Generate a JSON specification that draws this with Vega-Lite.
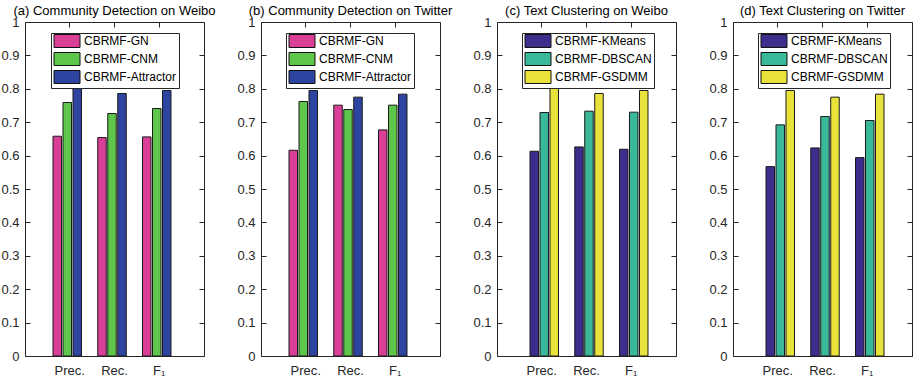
{
  "$schema": "https://vega.github.io/schema/vega-lite/v6.json",
  "padding": {"left": 0, "top": 5, "right": 0, "bottom": 0},
  "bounds": "flush",
  "spacing": 57,
  "background": "white",
  "config": {
    "font": "Liberation Sans",
    "view": {"stroke": null},
    "axis": {"labelFont": "Liberation Sans", "labelFontSize": 13, "labelColor": "#262626", "domainColor": "#262626", "tickColor": "#262626", "grid": false, "title": null, "tickSize": -5, "domainWidth": 1, "tickWidth": 1},
    "title": {"font": "Liberation Sans", "fontSize": 13, "fontWeight": "normal", "color": "#000000", "anchor": "middle", "frame": "group", "offset": -2},
    "legend": {"orient": "none", "legendY": 11, "title": null, "symbolType": "M-1.111,-1.444H4.667V1.444H-1.111Z", "symbolSize": 81, "symbolStrokeColor": "#111111", "symbolStrokeWidth": 1, "symbolOpacity": 1, "labelFont": "Liberation Sans", "labelFontSize": 12, "labelColor": "#000000", "labelOffset": 19, "rowPadding": 0, "padding": 2, "strokeColor": "#262626", "fillColor": "white"}
  },
  "datasets": {
    "bars": [
      {"panel": "a", "metric": "Prec.", "method": "CBRMF-GN", "value": 0.658},
      {"panel": "a", "metric": "Prec.", "method": "CBRMF-CNM", "value": 0.759},
      {"panel": "a", "metric": "Prec.", "method": "CBRMF-Attractor", "value": 0.801},
      {"panel": "a", "metric": "Rec.", "method": "CBRMF-GN", "value": 0.654},
      {"panel": "a", "metric": "Rec.", "method": "CBRMF-CNM", "value": 0.726},
      {"panel": "a", "metric": "Rec.", "method": "CBRMF-Attractor", "value": 0.786},
      {"panel": "a", "metric": "F₁", "method": "CBRMF-GN", "value": 0.656},
      {"panel": "a", "metric": "F₁", "method": "CBRMF-CNM", "value": 0.741},
      {"panel": "a", "metric": "F₁", "method": "CBRMF-Attractor", "value": 0.795},
      {"panel": "b", "metric": "Prec.", "method": "CBRMF-GN", "value": 0.616},
      {"panel": "b", "metric": "Prec.", "method": "CBRMF-CNM", "value": 0.762},
      {"panel": "b", "metric": "Prec.", "method": "CBRMF-Attractor", "value": 0.795},
      {"panel": "b", "metric": "Rec.", "method": "CBRMF-GN", "value": 0.751},
      {"panel": "b", "metric": "Rec.", "method": "CBRMF-CNM", "value": 0.738},
      {"panel": "b", "metric": "Rec.", "method": "CBRMF-Attractor", "value": 0.775},
      {"panel": "b", "metric": "F₁", "method": "CBRMF-GN", "value": 0.677},
      {"panel": "b", "metric": "F₁", "method": "CBRMF-CNM", "value": 0.751},
      {"panel": "b", "metric": "F₁", "method": "CBRMF-Attractor", "value": 0.784},
      {"panel": "c", "metric": "Prec.", "method": "CBRMF-KMeans", "value": 0.613},
      {"panel": "c", "metric": "Prec.", "method": "CBRMF-DBSCAN", "value": 0.729},
      {"panel": "c", "metric": "Prec.", "method": "CBRMF-GSDMM", "value": 0.804},
      {"panel": "c", "metric": "Rec.", "method": "CBRMF-KMeans", "value": 0.626},
      {"panel": "c", "metric": "Rec.", "method": "CBRMF-DBSCAN", "value": 0.733},
      {"panel": "c", "metric": "Rec.", "method": "CBRMF-GSDMM", "value": 0.786},
      {"panel": "c", "metric": "F₁", "method": "CBRMF-KMeans", "value": 0.619},
      {"panel": "c", "metric": "F₁", "method": "CBRMF-DBSCAN", "value": 0.730},
      {"panel": "c", "metric": "F₁", "method": "CBRMF-GSDMM", "value": 0.795},
      {"panel": "d", "metric": "Prec.", "method": "CBRMF-KMeans", "value": 0.567},
      {"panel": "d", "metric": "Prec.", "method": "CBRMF-DBSCAN", "value": 0.692},
      {"panel": "d", "metric": "Prec.", "method": "CBRMF-GSDMM", "value": 0.795},
      {"panel": "d", "metric": "Rec.", "method": "CBRMF-KMeans", "value": 0.623},
      {"panel": "d", "metric": "Rec.", "method": "CBRMF-DBSCAN", "value": 0.717},
      {"panel": "d", "metric": "Rec.", "method": "CBRMF-GSDMM", "value": 0.775},
      {"panel": "d", "metric": "F₁", "method": "CBRMF-KMeans", "value": 0.594},
      {"panel": "d", "metric": "F₁", "method": "CBRMF-DBSCAN", "value": 0.705},
      {"panel": "d", "metric": "F₁", "method": "CBRMF-GSDMM", "value": 0.784}
    ]
  },
  "resolve": {"scale": {"color": "independent"}, "legend": {"color": "independent"}},
  "hconcat": [
    {
      "width": 179, "height": 334,
      "title": {"text": "(a) Community Detection on Weibo"},
      "data": {"name": "bars"},
      "transform": [{"filter": "datum.panel === 'a'"}],
      "resolve": {"axis": {"x": "independent", "y": "independent"}},
      "layer": [
        {
          "mark": {"type": "bar", "stroke": "#1a1a1a", "strokeWidth": 1, "width": 8.5},
          "encoding": {
            "x": {"field": "metric", "type": "nominal", "sort": ["Prec.", "Rec.", "F₁"], "scale": {"paddingInner": 0.33, "paddingOuter": 0.665}, "axis": {"orient": "bottom", "labelAngle": 0, "labelPadding": 13}},
            "xOffset": {"field": "method", "type": "nominal", "sort": ["CBRMF-GN", "CBRMF-CNM", "CBRMF-Attractor"], "scale": {"paddingInner": 0, "paddingOuter": 0}},
            "y": {"field": "value", "type": "quantitative", "scale": {"domain": [0, 1], "nice": false}, "axis": {"orient": "left", "values": [0, 0.1, 0.2, 0.3, 0.4, 0.5, 0.6, 0.7, 0.8, 0.9, 1], "format": "~g", "labelPadding": 11}},
            "color": {"field": "method", "type": "nominal", "sort": ["CBRMF-GN", "CBRMF-CNM", "CBRMF-Attractor"], "scale": {"domain": ["CBRMF-GN", "CBRMF-CNM", "CBRMF-Attractor"], "range": ["#d93f96", "#5dc64b", "#2e44a1"]}, "legend": {"legendX": 26}}
          }
        },
        {
          "mark": {"type": "tick", "opacity": 0},
          "encoding": {
            "x": {"field": "metric", "type": "nominal", "sort": ["Prec.", "Rec.", "F₁"], "axis": {"orient": "top", "labels": false}},
            "y": {"field": "value", "type": "quantitative", "axis": {"orient": "right", "labels": false, "values": [0, 0.1, 0.2, 0.3, 0.4, 0.5, 0.6, 0.7, 0.8, 0.9, 1]}}
          }
        }
      ]
    },
    {
      "width": 179, "height": 334,
      "title": {"text": "(b) Community Detection on Twitter"},
      "data": {"name": "bars"},
      "transform": [{"filter": "datum.panel === 'b'"}],
      "resolve": {"axis": {"x": "independent", "y": "independent"}},
      "layer": [
        {
          "mark": {"type": "bar", "stroke": "#1a1a1a", "strokeWidth": 1, "width": 8.5},
          "encoding": {
            "x": {"field": "metric", "type": "nominal", "sort": ["Prec.", "Rec.", "F₁"], "scale": {"paddingInner": 0.33, "paddingOuter": 0.665}, "axis": {"orient": "bottom", "labelAngle": 0, "labelPadding": 13}},
            "xOffset": {"field": "method", "type": "nominal", "sort": ["CBRMF-GN", "CBRMF-CNM", "CBRMF-Attractor"], "scale": {"paddingInner": 0, "paddingOuter": 0}},
            "y": {"field": "value", "type": "quantitative", "scale": {"domain": [0, 1], "nice": false}, "axis": {"orient": "left", "values": [0, 0.1, 0.2, 0.3, 0.4, 0.5, 0.6, 0.7, 0.8, 0.9, 1], "format": "~g", "labelPadding": 11}},
            "color": {"field": "method", "type": "nominal", "sort": ["CBRMF-GN", "CBRMF-CNM", "CBRMF-Attractor"], "scale": {"domain": ["CBRMF-GN", "CBRMF-CNM", "CBRMF-Attractor"], "range": ["#d93f96", "#5dc64b", "#2e44a1"]}, "legend": {"legendX": 25}}
          }
        },
        {
          "mark": {"type": "tick", "opacity": 0},
          "encoding": {
            "x": {"field": "metric", "type": "nominal", "sort": ["Prec.", "Rec.", "F₁"], "axis": {"orient": "top", "labels": false}},
            "y": {"field": "value", "type": "quantitative", "axis": {"orient": "right", "labels": false, "values": [0, 0.1, 0.2, 0.3, 0.4, 0.5, 0.6, 0.7, 0.8, 0.9, 1]}}
          }
        }
      ]
    },
    {
      "width": 179, "height": 334,
      "title": {"text": "(c) Text Clustering on Weibo"},
      "data": {"name": "bars"},
      "transform": [{"filter": "datum.panel === 'c'"}],
      "resolve": {"axis": {"x": "independent", "y": "independent"}},
      "layer": [
        {
          "mark": {"type": "bar", "stroke": "#1a1a1a", "strokeWidth": 1, "width": 8.5},
          "encoding": {
            "x": {"field": "metric", "type": "nominal", "sort": ["Prec.", "Rec.", "F₁"], "scale": {"paddingInner": 0.33, "paddingOuter": 0.665}, "axis": {"orient": "bottom", "labelAngle": 0, "labelPadding": 13}},
            "xOffset": {"field": "method", "type": "nominal", "sort": ["CBRMF-KMeans", "CBRMF-DBSCAN", "CBRMF-GSDMM"], "scale": {"paddingInner": 0, "paddingOuter": 0}},
            "y": {"field": "value", "type": "quantitative", "scale": {"domain": [0, 1], "nice": false}, "axis": {"orient": "left", "values": [0, 0.1, 0.2, 0.3, 0.4, 0.5, 0.6, 0.7, 0.8, 0.9, 1], "format": "~g", "labelPadding": 11}},
            "color": {"field": "method", "type": "nominal", "sort": ["CBRMF-KMeans", "CBRMF-DBSCAN", "CBRMF-GSDMM"], "scale": {"domain": ["CBRMF-KMeans", "CBRMF-DBSCAN", "CBRMF-GSDMM"], "range": ["#3d2e8d", "#3ab89a", "#e9e23a"]}, "legend": {"legendX": 25}}
          }
        },
        {
          "mark": {"type": "tick", "opacity": 0},
          "encoding": {
            "x": {"field": "metric", "type": "nominal", "sort": ["Prec.", "Rec.", "F₁"], "axis": {"orient": "top", "labels": false}},
            "y": {"field": "value", "type": "quantitative", "axis": {"orient": "right", "labels": false, "values": [0, 0.1, 0.2, 0.3, 0.4, 0.5, 0.6, 0.7, 0.8, 0.9, 1]}}
          }
        }
      ]
    },
    {
      "width": 179, "height": 334,
      "title": {"text": "(d) Text Clustering on Twitter"},
      "data": {"name": "bars"},
      "transform": [{"filter": "datum.panel === 'd'"}],
      "resolve": {"axis": {"x": "independent", "y": "independent"}},
      "layer": [
        {
          "mark": {"type": "bar", "stroke": "#1a1a1a", "strokeWidth": 1, "width": 8.5},
          "encoding": {
            "x": {"field": "metric", "type": "nominal", "sort": ["Prec.", "Rec.", "F₁"], "scale": {"paddingInner": 0.33, "paddingOuter": 0.665}, "axis": {"orient": "bottom", "labelAngle": 0, "labelPadding": 13}},
            "xOffset": {"field": "method", "type": "nominal", "sort": ["CBRMF-KMeans", "CBRMF-DBSCAN", "CBRMF-GSDMM"], "scale": {"paddingInner": 0, "paddingOuter": 0}},
            "y": {"field": "value", "type": "quantitative", "scale": {"domain": [0, 1], "nice": false}, "axis": {"orient": "left", "values": [0, 0.1, 0.2, 0.3, 0.4, 0.5, 0.6, 0.7, 0.8, 0.9, 1], "format": "~g", "labelPadding": 11}},
            "color": {"field": "method", "type": "nominal", "sort": ["CBRMF-KMeans", "CBRMF-DBSCAN", "CBRMF-GSDMM"], "scale": {"domain": ["CBRMF-KMeans", "CBRMF-DBSCAN", "CBRMF-GSDMM"], "range": ["#3d2e8d", "#3ab89a", "#e9e23a"]}, "legend": {"legendX": 25}}
          }
        },
        {
          "mark": {"type": "tick", "opacity": 0},
          "encoding": {
            "x": {"field": "metric", "type": "nominal", "sort": ["Prec.", "Rec.", "F₁"], "axis": {"orient": "top", "labels": false}},
            "y": {"field": "value", "type": "quantitative", "axis": {"orient": "right", "labels": false, "values": [0, 0.1, 0.2, 0.3, 0.4, 0.5, 0.6, 0.7, 0.8, 0.9, 1]}}
          }
        }
      ]
    }
  ]
}
